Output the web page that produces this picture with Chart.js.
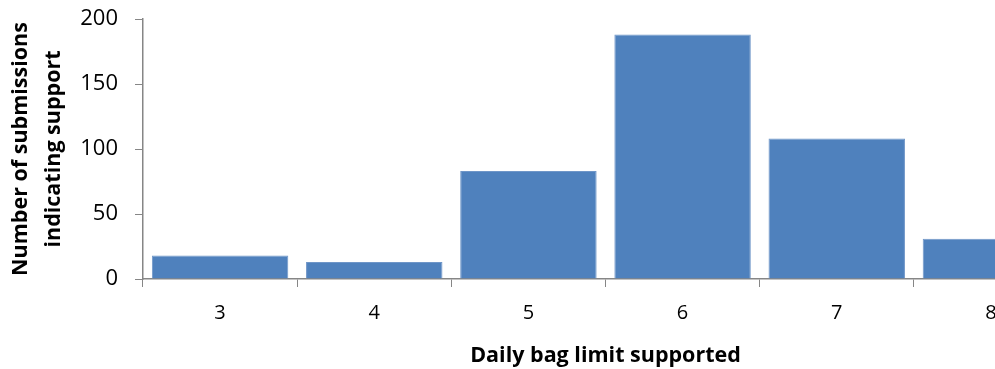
<!DOCTYPE html>
<html>
<head>
<meta charset="utf-8">
<script src="https://cdn.jsdelivr.net/npm/chart.js@4.4.1/dist/chart.umd.min.js"></script>
<style>
    html, body { margin: 0; padding: 0; background: #fff; overflow: hidden; }
    #contenedor { width: 1072px; height: 369px; position: relative; }
</style>
</head>
<body>
<div id="contenedor">
    <canvas id="graficaBolsas"></canvas>
</div>
<script>

// datos
const limites = ['3', '4', '5', '6', '7', '8'];
const envios = [18, 13, 83, 188, 108, 31];
const tituloX = 'Daily bag limit supported';
const tituloY = ['Number of submissions', 'indicating support'];

const colorEje = '#868686';
const fuente = "'Open Sans', 'Noto Sans', sans-serif";

const ctxBolsas = document.getElementById('graficaBolsas');
const myChartBolsas = new Chart(ctxBolsas, {
    type: 'bar',
    data: {
        labels: limites,
        datasets: [{
            label: 'Submissions',
            data: envios,
            backgroundColor: '#4F81BD',
            borderColor: '#6F96C8',
            borderWidth: 1,
            barPercentage: 1,
            categoryPercentage: 0.885
        }]
    },
    options: {
        responsive: true,
        maintainAspectRatio: false,
        animation: false,
        layout: {
            padding: { top: 0, right: 4, left: 4, bottom: 0 }
        },
        plugins: {
            legend: { display: false },
            tooltip: { enabled: false }
        },
        scales: {
            x: {
                afterFit: function (escala) {
                    escala.height = 90;
                },
                grid: {
                    offset: true,
                    drawOnChartArea: false,
                    drawTicks: true,
                    tickLength: 8,
                    color: colorEje
                },
                border: { color: colorEje, width: 1.5 },
                ticks: {
                    color: '#000',
                    font: { family: fuente, size: 20 },
                    padding: 14
                },
                title: {
                    display: true,
                    text: tituloX,
                    color: '#000',
                    font: { family: fuente, size: 21.5, weight: 'bold' },
                    padding: { top: 6, bottom: 0 }
                }
            },
            y: {
                afterFit: function (escala) {
                    escala.width = 139;
                    escala.paddingTop = 19;
                    escala.paddingBottom = 0;
                },
                min: 0,
                max: 200,
                ticks: {
                    stepSize: 50,
                    color: '#000',
                    font: { family: fuente, size: 22 },
                    padding: 17
                },
                grid: {
                    drawOnChartArea: false,
                    drawTicks: true,
                    tickLength: 8,
                    color: colorEje
                },
                border: { color: colorEje, width: 1.5 },
                title: {
                    display: true,
                    text: tituloY,
                    color: '#000',
                    font: { family: fuente, size: 21.5, weight: 'bold', lineHeight: 1.55 },
                    padding: { top: 0, bottom: 0 }
                }
            }
        }
    }
});

</script>
</body>
</html>
